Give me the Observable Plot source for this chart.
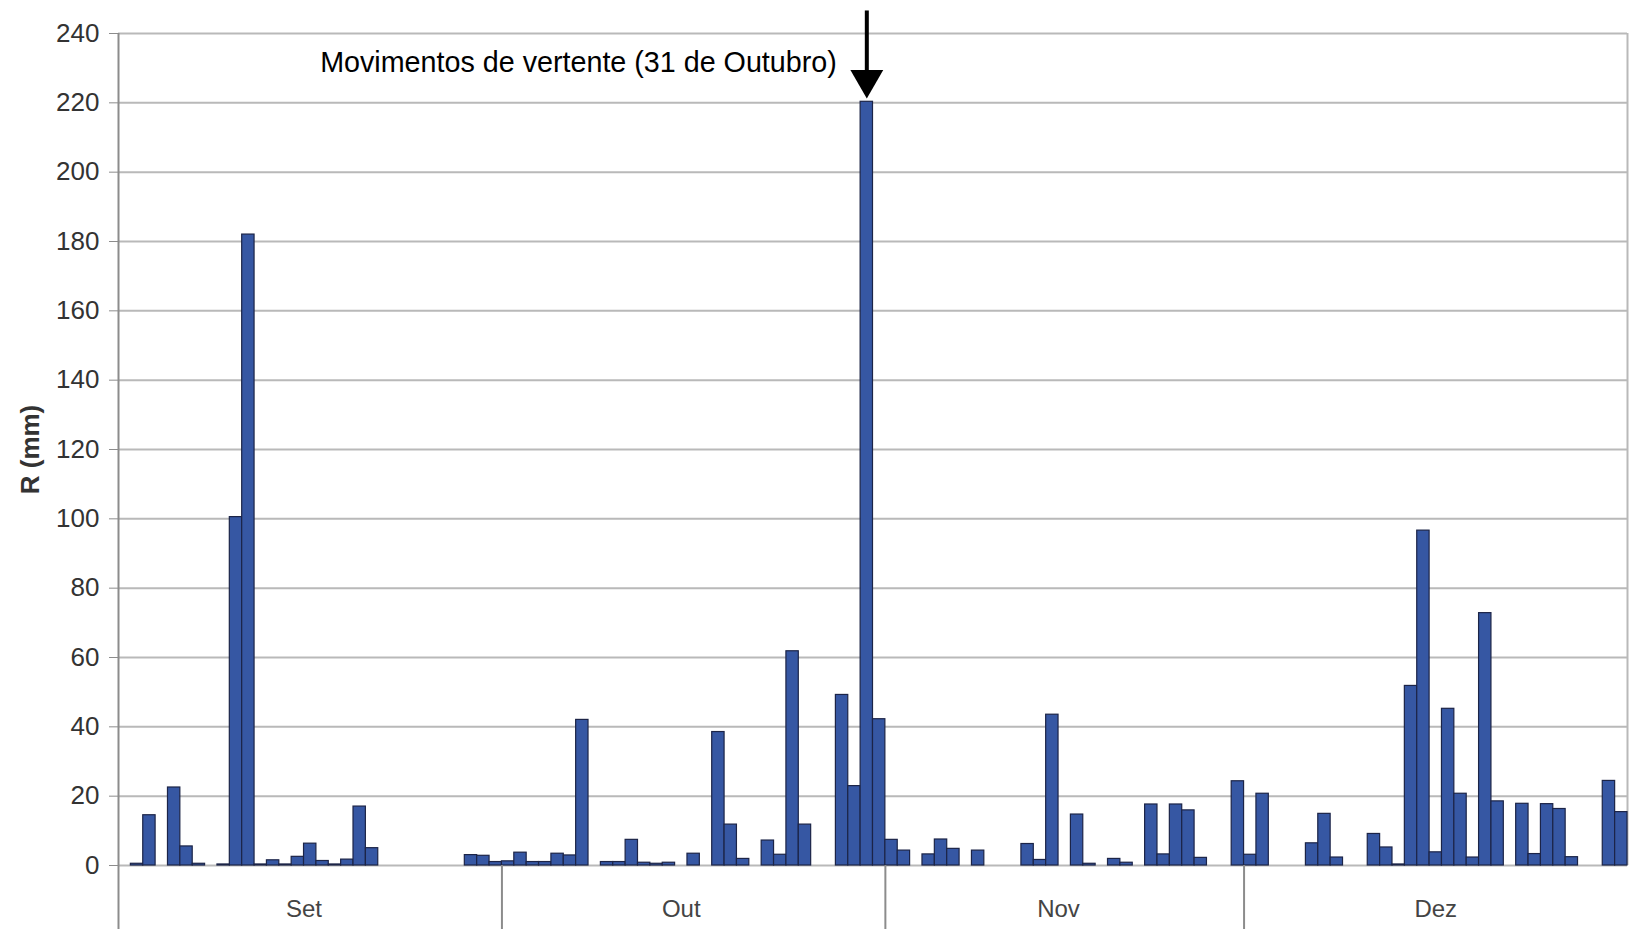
<!DOCTYPE html>
<html>
<head>
<meta charset="utf-8">
<script src="https://cdn.jsdelivr.net/npm/d3@7"></script>
<script src="https://cdn.jsdelivr.net/npm/@observablehq/plot@0.6"></script>
<style>
  html, body { margin: 0; padding: 0; background: #fff; }
  #chart svg { display: block; }
</style>
</head>
<body>
<div id="chart"></div>
<script>
// Daily rainfall R (mm), one value per day slot (Set, Out, Nov, Dez)
const rain = [
  0, 0.5, 14.5, 0, 22.5, 5.5, 0.5, 0, 0.3, 100.5,
  182, 0.3, 1.5, 0.3, 2.5, 6.3, 1.3, 0.3, 1.7, 17,
  5, 0, 0, 0, 0, 0, 0, 0, 3, 2.8,
  1, 1.2, 3.7, 1, 1, 3.4, 2.9, 42, 0, 1,
  1, 7.4, 0.8, 0.5, 0.8, 0, 3.4, 0, 38.5, 11.8,
  1.9, 0, 7.2, 3.1, 61.8, 11.8, 0, 0, 49.2, 22.9,
  220.3, 42.2, 7.4, 4.3, 0, 3.2, 7.5, 4.8, 0, 4.3,
  0, 0, 0, 6.2, 1.6, 43.5, 0, 14.7, 0.5, 0,
  1.9, 0.8, 0, 17.6, 3.2, 17.6, 15.9, 2.2, 0, 0,
  24.3, 3.1, 20.7, 0, 0, 0, 6.4, 14.9, 2.3, 0,
  0, 9.1, 5.2, 0.3, 51.8, 96.6, 3.8, 45.2, 20.7, 2.3,
  72.8, 18.5, 0, 17.8, 3.3, 17.7, 16.3, 2.4, 0, 0,
  24.4, 15.4
];
const monthNames = ["Set", "Out", "Nov", "Dez"];
const monthDays = [30, 31, 30, 31];
const separatorTicks = [0, 31, 62, 91];
const yTicks = [0, 20, 40, 60, 80, 100, 120, 140, 160, 180, 200, 220, 240];
const yLabel = "R (mm)";
const annotation = { day: 60, label: "Movimentos de vertente (31 de Outubro)", textY: 231.6, arrowFrom: 246.5 };

const bars = rain.map((r, i) => ({ i, r })).filter(d => d.r > 0);
const starts = d3.cumsum([0, ...monthDays]);
const months = monthNames.map((name, k) => ({ name, mid: (starts[k] + starts[k + 1]) / 2 }));
const nSlots = rain.length;

const chart = Plot.plot({
  width: 1629,
  height: 929,
  marginLeft: 118,
  marginRight: 2,
  marginTop: 33,
  marginBottom: 64,
  style: { fontFamily: "'Liberation Sans', Arial, sans-serif", background: "white", overflow: "visible" },
  x: { type: "linear", domain: [0, nSlots] },
  y: { domain: [0, 240] },
  marks: [
    Plot.gridY(yTicks, { stroke: "#b9b9b9", strokeOpacity: 1, strokeWidth: 2 }),
    Plot.ruleX([nSlots], { stroke: "#b9b9b9", strokeWidth: 2 }),
    Plot.rectY(bars, {
      x1: d => d.i, x2: d => d.i + 1, y: "r",
      fill: "#3657a3", stroke: "#1c2447", strokeWidth: 1.2
    }),
    Plot.ruleX([0], { stroke: "#8c8c8c", strokeWidth: 2 }),
    Plot.axisY(yTicks, {
      tickSize: 9, tickPadding: 10, fontSize: 26,
      stroke: "#8c8c8c", fill: "#333", label: null
    }),
    Plot.axisX(separatorTicks, {
      tickSize: 64, tickFormat: () => "", stroke: "#8c8c8c", strokeWidth: 2, label: null
    }),
    Plot.text(months, {
      x: "mid", frameAnchor: "bottom", text: "name", dy: 44,
      fontSize: 24, fill: "#444", lineAnchor: "middle"
    }),
    Plot.text([yLabel], {
      frameAnchor: "left", textAnchor: "middle", rotate: -90, dx: -88, text: d => d,
      fontSize: 26, fontWeight: "bold", fill: "#333"
    }),
    Plot.ruleX([annotation], {
      x: d => d.day + 0.5, y1: "arrowFrom", y2: d => rain[d.day] + 6.4,
      stroke: "black", strokeWidth: 4
    }),
    Plot.dot([annotation], {
      x: d => d.day + 0.5, y: d => rain[d.day] + 6.4,
      symbol: "triangle", r: 12.2, rotate: 180, fill: "black", stroke: null
    }),
    Plot.text([annotation], {
      x: d => d.day + 0.5, y: "textY", text: "label", textAnchor: "end",
      dx: -30, fontSize: 28.7, fill: "black"
    })
  ]
});
document.getElementById("chart").appendChild(chart);
</script>
</body>
</html>
